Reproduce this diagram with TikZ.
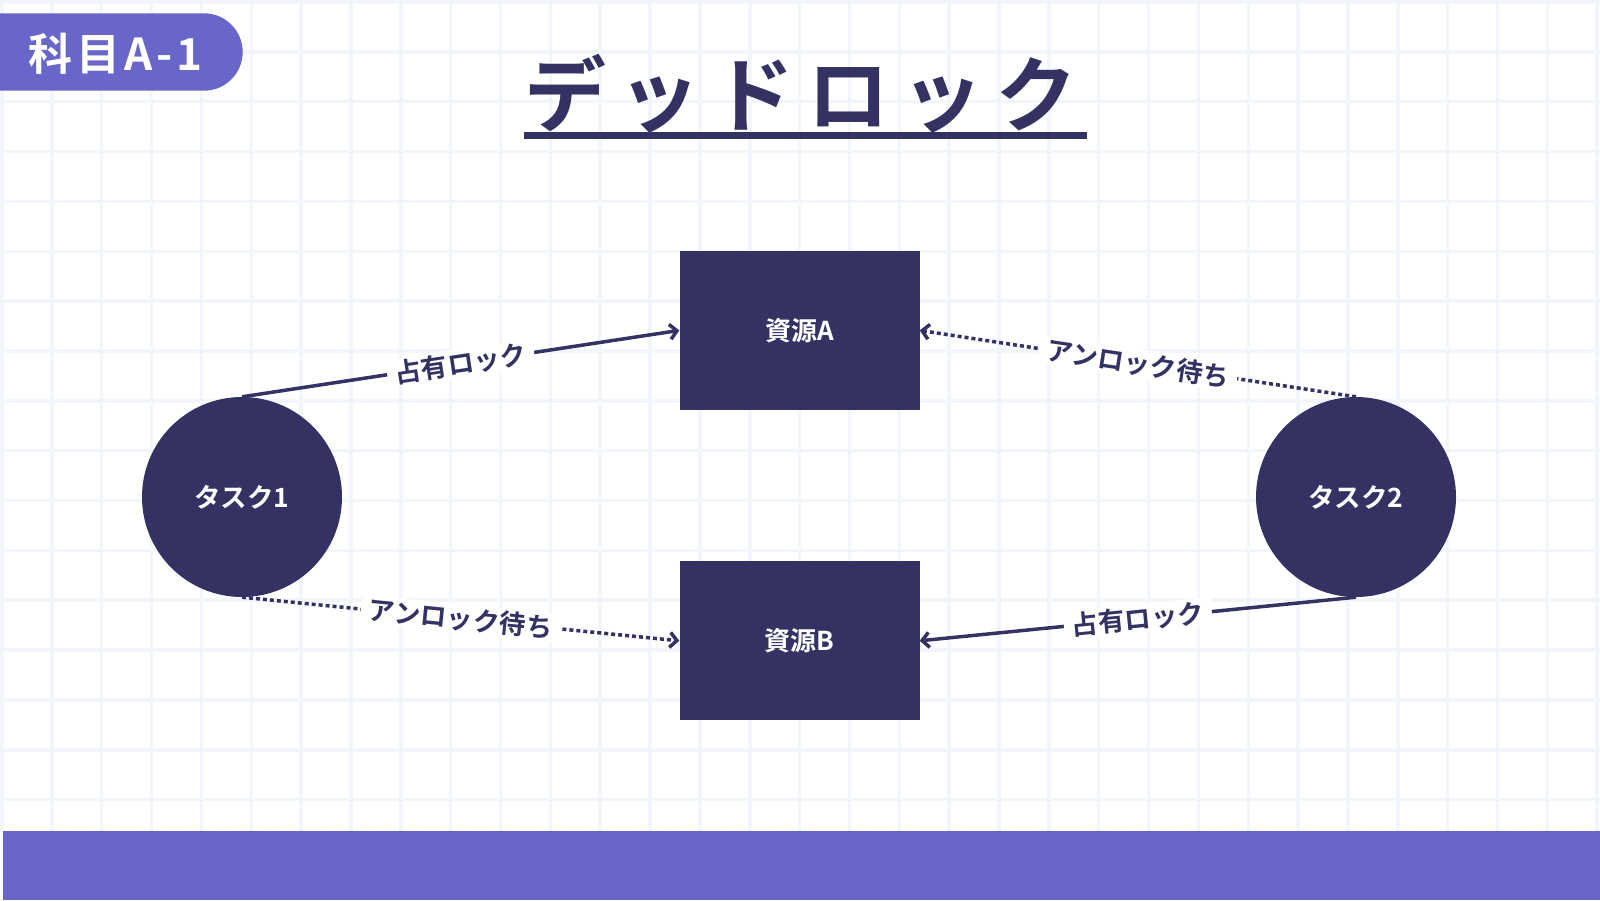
\documentclass[tikz,border=0pt]{standalone}
\usepackage{fontspec}
\setmainfont{Noto Sans CJK JP}[BoldFont=* Bold]
\usepackage{xcolor}
\usetikzlibrary{arrows.meta}

\definecolor{inkcol}{HTML}{333263}
\definecolor{bandcol}{HTML}{6866C9}
\definecolor{gridcol}{HTML}{F2F6FA}

\begin{document}
\begin{tikzpicture}[x=1pt, y=-1pt,
		every node/.style={inner sep=0pt, text=inkcol, font=\bfseries},
		res/.style={rectangle, fill=inkcol, minimum width=240pt, minimum height=159pt,
			text=white, font=\bfseries\fontsize{26}{30}\selectfont},
		task/.style={circle, fill=inkcol, minimum size=200pt,
			text=white, font=\bfseries\fontsize{26.5}{30}\selectfont},
		hold/.style={draw=inkcol, line width=3.5pt, -{Straight Barb[length=7pt,width=15pt]}},
		wait/.style={hold, dash pattern=on 4pt off 3pt},
		lbl/.style={sloped, fill=white, inner xsep=8pt, inner ysep=2pt,
			font=\bfseries\fontsize{26.5}{30}\selectfont}]
		{
			\def\cell{49.85}
			\def\bandtop{830.7}
			\useasboundingbox (0,0) rectangle (1600,900);
			\fill[white] (0,0) rectangle (1600,900);

			\foreach \i in {0,...,32}
				\draw[gridcol, line width=3.5pt] ({2+\cell*\i}, 0) -- ++(0, \bandtop);
			\foreach \j in {0,...,16}
				\draw[gridcol, line width=3.5pt] (0, {2+\cell*\j}) -- ++(1600, 0);

			\fill[bandcol] (3,\bandtop) rectangle (1600,900);
			\fill[bandcol, rounded corners=38.7pt] (-60,13.3) rectangle (242.7,90.7);
			\node[anchor=base west, text=white, font=\bfseries\fontsize{44}{50}\selectfont\addfontfeature{LetterSpace=9}]
				(badge) at (28,70.7) {科目A-1};

			\node[anchor=base west, font=\bfseries\fontsize{82}{100}\selectfont\addfontfeature{LetterSpace=15}]
				(title) at (524,125) {デッドロック};
			\draw[inkcol, line width=6.5pt] ([yshift=-10.5pt]title.base west) -- ([xshift=9pt, yshift=-10.5pt]title.base east);

			\node[res] (resA) at (799.5,330.4) {資源A};
			\node[res] (resB) at (799.5,640.8) {資源B};
			\node[task] (task1) at (242,497) {タスク1};
			\node[task] (task2) at (1356,497) {タスク2};

			\draw[hold] (task1.north) -- node[lbl] {占有ロック} (resA.west);
			\draw[wait] (task1.south) -- node[lbl] {アンロック待ち} (resB.west);
			\draw[wait] (task2.north) -- node[lbl] {アンロック待ち} (resA.east);
			\draw[hold] (task2.south) -- node[lbl] {占有ロック} (resB.east);
		}
	\end{tikzpicture}
\end{document}
